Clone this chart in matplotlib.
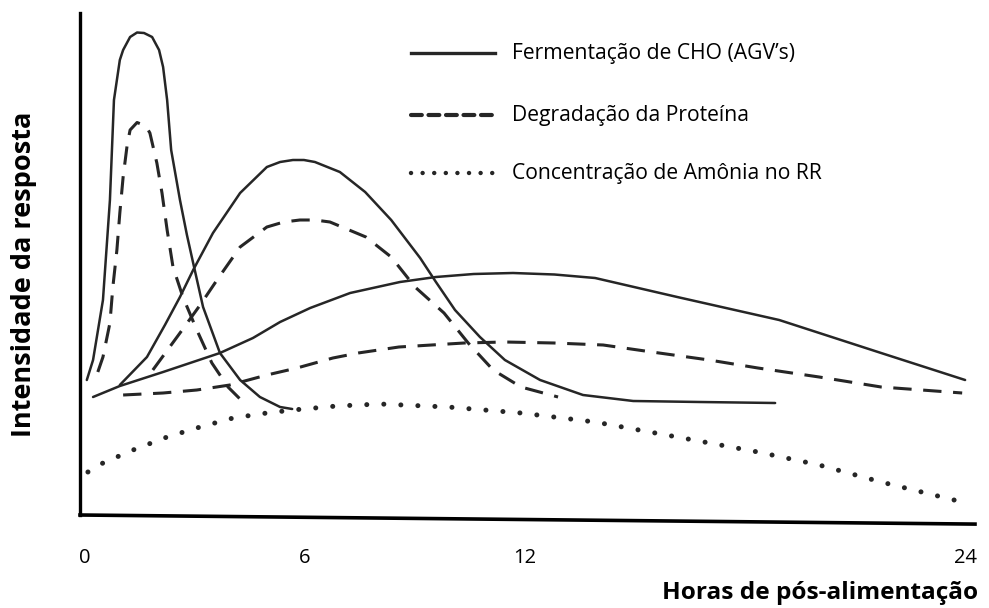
import matplotlib
matplotlib.use("Agg")
import matplotlib.pyplot as plt

plt.rcParams['font.family'] = ['Open Sans', 'DejaVu Sans']

# ---- data (hours after feeding, response intensity in arbitrary units) ----
cho_fast_x = [0.05, 0.22, 0.49, 0.68, 0.79, 0.95, 1.04, 1.23, 1.42, 1.61, 1.83, 2.02, 2.13, 2.24,
              2.35, 2.59, 2.78, 2.95, 3.22, 3.68, 4.23, 4.77, 5.32, 5.65]
cho_fast_y = [27.0, 31.0, 43.0, 63.0, 83.0, 91.0, 93.0, 95.6, 96.5, 96.4, 95.6, 93.0, 89.6, 83.0,
              73.0, 63.0, 56.0, 50.4, 41.6, 32.4, 27.0, 23.6, 21.6, 21.2]

prot_fast_x = [0.35, 0.49, 0.68, 0.76, 0.87, 0.95, 1.04, 1.15, 1.23, 1.42, 1.66, 1.77, 1.96, 2.10,
               2.24, 2.40, 2.67, 3.05, 3.46, 3.90, 4.31]
prot_fast_y = [28.6, 31.6, 38.4, 45.6, 53.0, 60.4, 67.6, 74.0, 77.0, 78.5, 77.8, 76.4, 70.4, 64.4,
               57.0, 49.6, 43.6, 37.0, 30.4, 25.6, 22.6]

cho_mid_x = [0.95, 1.69, 2.18, 2.59, 2.95, 3.49, 4.23, 4.96, 5.32, 5.67, 5.97, 6.27, 6.95, 7.64,
             8.35, 9.14, 9.57, 10.09, 10.77, 11.45, 12.41, 13.58, 14.95, 16.77, 18.82]
cho_mid_y = [26.0, 31.6, 38.0, 43.6, 49.0, 56.4, 64.4, 69.6, 70.6, 71.0, 71.0, 70.6, 68.6, 64.6,
             59.0, 51.4, 46.6, 41.0, 35.6, 31.0, 27.0, 24.0, 22.8, 22.6, 22.4]

prot_mid_x = [1.85, 2.59, 3.14, 3.60, 4.23, 4.96, 5.42, 5.86, 6.27, 6.68, 7.66, 8.35, 9.00, 9.79,
              10.45, 11.13, 11.89, 12.90]
prot_mid_y = [29.0, 36.4, 42.0, 47.0, 53.6, 57.6, 58.6, 59.0, 59.0, 58.6, 55.6, 51.6, 45.6, 40.4,
              34.4, 29.0, 25.6, 23.6]

cho_slow_x = [0.22, 0.95, 2.13, 3.68, 4.58, 5.32, 6.14, 7.23, 8.59, 9.57, 10.60, 11.67, 12.80,
              13.91, 16.15, 18.93, 21.71, 24.0]
cho_slow_y = [23.6, 25.8, 28.6, 32.4, 35.4, 38.6, 41.4, 44.4, 46.6, 47.6, 48.2, 48.4, 48.1,
              47.4, 43.6, 39.0, 32.4, 27.0]

prot_slow_x = [1.04, 2.13, 3.05, 3.95, 4.96, 5.78, 6.76, 7.45, 8.56, 10.34, 11.45, 12.79, 14.13,
               15.46, 17.02, 18.35, 20.02, 21.71, 23.92]
prot_slow_y = [24.0, 24.4, 25.0, 26.0, 28.0, 29.4, 31.4, 32.4, 33.6, 34.4, 34.6, 34.4, 34.0,
               32.6, 31.0, 29.4, 27.6, 25.6, 24.4]

amonia_x = [0.08, 0.49, 1.31, 2.24, 3.14, 4.04, 4.96, 5.67, 6.87, 8.05, 9.90, 11.89, 13.91,
            16.15, 18.35, 20.02, 21.71, 23.92]
amonia_y = [8.6, 10.4, 13.0, 15.6, 17.6, 19.4, 20.4, 21.0, 21.8, 22.2, 21.6, 20.4, 18.6,
            15.6, 12.6, 10.0, 6.6, 2.6]

tick_values = [0, 6, 12, 24]
tick_labels = ['0', '6', '12', '24']
legend_labels = ['Fermentação de CHO (AGV’s)', 'Degradação da Proteína',
                 'Concentração de Amônia no RR']
x_title = 'Horas de pós-alimentação'
y_title = 'Intensidade da resposta'

# ---- figure ----
W, H = 989, 608
fig = plt.figure(figsize=(W / 100, H / 100), dpi=100)
ax = fig.add_axes([80 / W, (H - 515) / H, 895 / W, 505 / H])
ax.set_xlim(-0.136, 24.27)
ax.set_ylim(0, 101)

col = '#262626'
solid = dict(color=col, lw=1.8, solid_capstyle='round', solid_joinstyle='round')
dashed = dict(color=col, lw=2.2, linestyle=(0, (6.0, 3.8)), dash_capstyle='butt')
dotted = dict(color=col, lw=3.6, linestyle=(0, (0.01, 3.4)), dash_capstyle='round')

ax.plot(cho_fast_x, cho_fast_y, **solid)
ax.plot(cho_mid_x, cho_mid_y, **solid)
ax.plot(cho_slow_x, cho_slow_y, **solid)
ax.plot(prot_fast_x, prot_fast_y, **dashed)
ax.plot(prot_mid_x, prot_mid_y, **dashed)
ax.plot(prot_slow_x, prot_slow_y, **dashed)
ax.plot(amonia_x, amonia_y, **dotted)

# axes lines (hand-drawn look: bottom axis slightly tilted)
for s in ax.spines.values():
    s.set_visible(False)
ax.plot([0, 0], [0.0, 0.995], transform=ax.transAxes, color='black', lw=2.4,
        clip_on=False, solid_capstyle='projecting')
ax.plot([0, 1], [0.0, -0.018], transform=ax.transAxes, color='black', lw=2.6,
        clip_on=False, solid_capstyle='projecting')

ax.set_xticks(tick_values)
ax.set_xticklabels(tick_labels, fontsize=14.5)
ax.tick_params(axis='x', length=0, pad=24)
ax.set_yticks([])

fig.text(978 / W, 1 - 593 / H, x_title, ha='right', va='center',
         fontsize=17.6, fontweight='bold')
fig.text(24 / W, 1 - 274 / H, y_title, ha='center', va='center', rotation=90,
         fontsize=19.5, fontweight='bold')

# legend drawn in axes coordinates
def fx(px):
    return (px - 80) / 895

def fy(py):
    return (515 - py) / 505

leg_styles = [
    dict(color=col, lw=2.4),
    dict(color=col, lw=3.0, linestyle=(0, (2.6, 1.6)), dash_capstyle='round'),
    dict(color=col, lw=3.2, linestyle=(0, (0.01, 2.6)), dash_capstyle='round'),
]
leg_y = [53, 115, 173]
for lab, st, py in zip(legend_labels, leg_styles, leg_y):
    ax.plot([fx(411), fx(495)], [fy(py), fy(py)], transform=ax.transAxes, clip_on=False, **st)
    ax.text(fx(512), fy(py), lab, transform=ax.transAxes, ha='left', va='center', fontsize=15.2)

fig.savefig('out.png', dpi=100, facecolor='white')
